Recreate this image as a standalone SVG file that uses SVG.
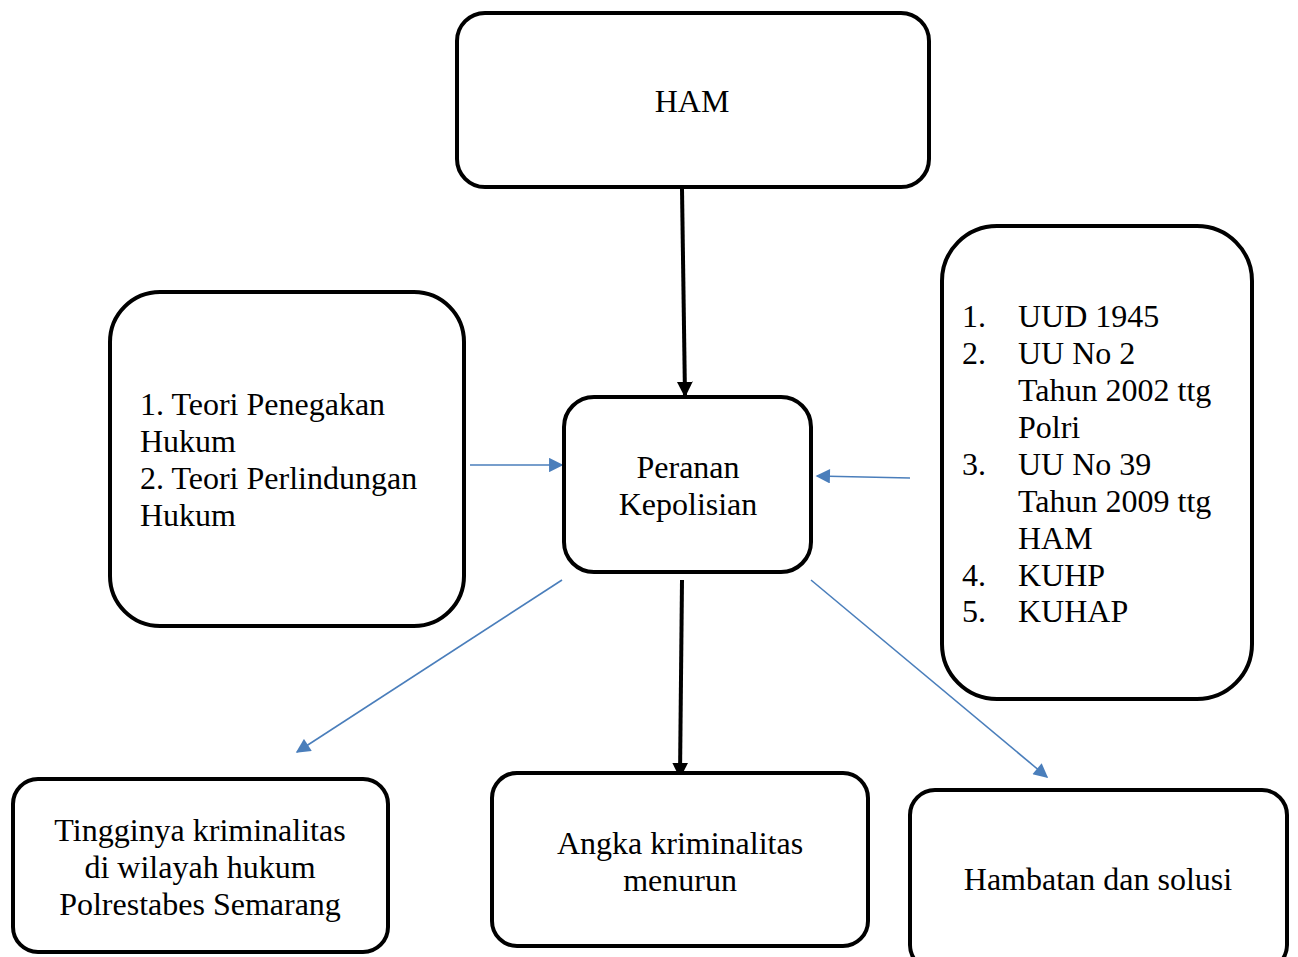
<svg xmlns="http://www.w3.org/2000/svg" width="1298" height="957" viewBox="0 0 1298 957">
<style>
.box{fill:#fff;stroke:#000;stroke-width:4}
text{font-family:"Liberation Serif","Times New Roman",serif;font-size:32px;fill:#000}
.c{text-anchor:middle}
.blk{stroke:#000;stroke-width:4;fill:none}
.blu{stroke:#4a7ebb;stroke-width:1.6;fill:none}
</style>
<defs>
<marker id="ab" viewBox="0 0 10 10" refX="9" refY="5" markerWidth="4" markerHeight="4" orient="auto" markerUnits="strokeWidth"><path d="M0,0 L10,5 L0,10 z" fill="#000"/></marker>
<marker id="au" viewBox="0 0 10 10" refX="9" refY="5" markerWidth="10" markerHeight="9" orient="auto" markerUnits="strokeWidth"><path d="M0,0 L10,5 L0,10 z" fill="#4a7ebb"/></marker>
</defs>
<rect width="1298" height="957" fill="#fff"/>
<g id="connectors">
<line class="blk" x1="682" y1="189" x2="685" y2="396" marker-end="url(#ab)"/>
<line class="blk" x1="682" y1="580" x2="680" y2="777" marker-end="url(#ab)"/>
<line class="blu" x1="470" y1="465" x2="562" y2="465" marker-end="url(#au)"/>
<line class="blu" x1="910" y1="478" x2="817" y2="476" marker-end="url(#au)"/>
<line class="blu" x1="562" y1="580" x2="297" y2="752" marker-end="url(#au)"/>
<line class="blu" x1="811" y1="580" x2="1047" y2="777" marker-end="url(#au)"/>
</g>
<g id="ham">
<rect class="box" x="457" y="13" width="472" height="174" rx="28"/>
<text class="c" x="692" y="112">HAM</text>
</g>
<g id="teori">
<rect class="box" x="110" y="292" width="354" height="334" rx="50"/>
<text x="140" y="415">1. Teori Penegakan</text>
<text x="140" y="452">Hukum</text>
<text x="140" y="489">2. Teori Perlindungan</text>
<text x="140" y="526">Hukum</text>
</g>
<g id="peranan">
<rect class="box" x="564" y="397" width="247" height="175" rx="30"/>
<text class="c" x="688" y="478">Peranan</text>
<text class="c" x="688" y="515">Kepolisian</text>
</g>
<g id="uu">
<rect class="box" x="942" y="226" width="310" height="473" rx="55"/>
<text x="962" y="327">1.</text><text x="1018" y="327">UUD 1945</text>
<text x="962" y="364">2.</text><text x="1018" y="364">UU No 2</text>
<text x="1018" y="401">Tahun 2002 ttg</text>
<text x="1018" y="438">Polri</text>
<text x="962" y="475">3.</text><text x="1018" y="475">UU No 39</text>
<text x="1018" y="512">Tahun 2009 ttg</text>
<text x="1018" y="549">HAM</text>
<text x="962" y="586">4.</text><text x="1018" y="586">KUHP</text>
<text x="962" y="622">5.</text><text x="1018" y="622">KUHAP</text>
</g>
<g id="tingginya">
<rect class="box" x="13" y="779" width="375" height="173" rx="25"/>
<text class="c" x="200" y="841">Tingginya kriminalitas</text>
<text class="c" x="200" y="878">di wilayah hukum</text>
<text class="c" x="200" y="915">Polrestabes Semarang</text>
</g>
<g id="angka">
<rect class="box" x="492" y="773" width="376" height="173" rx="25"/>
<text class="c" x="680" y="854">Angka kriminalitas</text>
<text class="c" x="680" y="891">menurun</text>
</g>
<g id="hambatan">
<rect class="box" x="910" y="790" width="377" height="180" rx="25"/>
<text class="c" x="1098" y="890">Hambatan dan solusi</text>
</g>
</svg>
